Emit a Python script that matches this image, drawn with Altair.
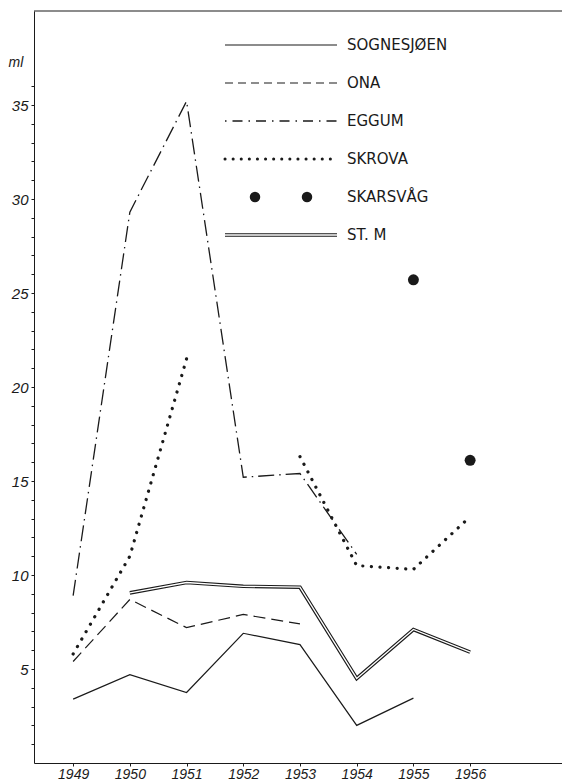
import altair as alt
import pandas as pd

years = [1949, 1950, 1951, 1952, 1953, 1954, 1955, 1956]
sognesjoen = [3.4, 4.7, 3.75, 6.9, 6.3, 2.0, 3.45, None]
ona = [5.4, 8.7, 7.2, 7.9, 7.4, None, None, None]
eggum = [8.9, 29.3, 35.2, 15.2, 15.4, 11.1, None, None]
skrova = [5.8, 11.0, 21.5, None, 16.3, 10.5, 10.3, 13.1]
skarsvag = [None, None, None, None, None, None, 25.7, 16.1]
st_m = [None, 9.05, 9.6, 9.4, 9.35, 4.5, 7.1, 5.9]
legend_labels = ["SOGNESJØEN", "ONA", "EGGUM", "SKROVA", "SKARSVÅG", "ST. M"]
y_tick_values = list(range(1, 37))
y_top = 40
y_unit = "ml"


def series_df(vals):
    rows, seg = [], 0
    for yr, v in zip(years, vals):
        if v is None:
            seg += 1
            continue
        rows.append({"year": yr, "value": v, "seg": seg})
    return pd.DataFrame(rows)


INK = "#1a1a1a"
FONT = "Liberation Sans"

x_axis = alt.Axis(
    values=years, format="d", grid=False, title=None,
    labelFont=FONT, labelFontStyle="italic", labelFontSize=14, labelColor=INK,
    tickSize=3, tickColor=INK, domainColor=INK, labelPadding=1,
)
y_axis = alt.Axis(
    values=y_tick_values, grid=False, title=y_unit,
    labelExpr="datum.value % 5 == 0 ? datum.label : ''",
    labelFont=FONT, labelFontStyle="italic", labelFontSize=15, labelColor=INK,
    tickSize=3, tickColor=INK, domainColor=INK, labelPadding=3,
    titleAngle=0, titleX=-26, titleY=51, titleAlign="left", titleBaseline="middle",
    titleFont=FONT, titleFontStyle="italic", titleFontWeight="normal",
    titleFontSize=14, titleColor=INK,
)
xs = alt.Scale(domain=[1948.31, 1957.62], nice=False, zero=False)
ys = alt.Scale(domain=[0, y_top], nice=False)


def enc(ch):
    return ch.encode(
        x=alt.X("year:Q", scale=xs, axis=x_axis),
        y=alt.Y("value:Q", scale=ys, axis=y_axis),
    )


layers = []
layers.append(enc(alt.Chart(series_df(sognesjoen)).mark_line(color=INK, strokeWidth=1.2)))
layers.append(enc(alt.Chart(series_df(ona)).mark_line(color=INK, strokeWidth=1.2, strokeDash=[12, 6])))
layers.append(enc(alt.Chart(series_df(eggum)).mark_line(color=INK, strokeWidth=1.3, strokeDash=[16, 5, 1.5, 5])))
layers.append(enc(alt.Chart(series_df(skrova)).mark_line(
    color=INK, strokeWidth=3.2, strokeDash=[0.1, 8.5], strokeCap="round")).encode(detail="seg:N"))
layers.append(enc(alt.Chart(series_df(st_m)).mark_line(color=INK, strokeWidth=3.6)))
layers.append(enc(alt.Chart(series_df(st_m)).mark_line(color="white", strokeWidth=1.3)))
layers.append(enc(alt.Chart(series_df(skarsvag)).mark_point(
    filled=True, size=120, color=INK, opacity=1)))

# top frame line
layers.append(alt.Chart(pd.DataFrame({"value": [y_top]})).mark_rule(color=INK, strokeWidth=1.2).encode(
    y=alt.Y("value:Q", scale=ys, axis=y_axis)))

# custom legend (pixel layout)
LX1, LX2, LTX, LY0, LSTEP = 191, 303, 313, 34, 38
leg = pd.DataFrame({"label": legend_labels,
                    "ly": [LY0 + LSTEP * i for i in range(len(legend_labels))]})


def leg_rule(i, **kw):
    return alt.Chart(leg.iloc[[i]]).mark_rule(**kw).encode(
        x=alt.value(LX1), x2=alt.value(LX2), y=alt.Y("ly:Q", scale=None, axis=None))


layers.append(leg_rule(0, color=INK, strokeWidth=1.2))
layers.append(leg_rule(1, color=INK, strokeWidth=1.2, strokeDash=[8, 5]))
layers.append(leg_rule(2, color=INK, strokeWidth=1.3, strokeDash=[1.5, 6, 10, 6]))
layers.append(leg_rule(3, color=INK, strokeWidth=3, strokeDash=[0.1, 8], strokeCap="round"))
layers.append(alt.Chart(pd.DataFrame({"px": [221, 273], "ly": [leg.ly[4]] * 2})).mark_point(
    filled=True, size=110, color=INK, opacity=1).encode(
    x=alt.X("px:Q", scale=None, axis=None), y=alt.Y("ly:Q", scale=None, axis=None)))
layers.append(leg_rule(5, color=INK, strokeWidth=3.6))
layers.append(leg_rule(5, color="white", strokeWidth=1.3))
layers.append(alt.Chart(leg).mark_text(
    align="left", baseline="middle", font="DejaVu Sans", fontSize=15, color=INK).encode(
    x=alt.value(LTX), y=alt.Y("ly:Q", scale=None, axis=None), text="label:N"))

chart = alt.layer(*layers).properties(
    width=528, height=752,
    autosize=alt.AutoSizeParams(type="none"),
    padding={"left": 34, "top": 11, "right": 0, "bottom": 19},
    background="white",
).configure_view(stroke=None)

chart.save("out.html", embed_options={"renderer": "svg", "actions": False})
